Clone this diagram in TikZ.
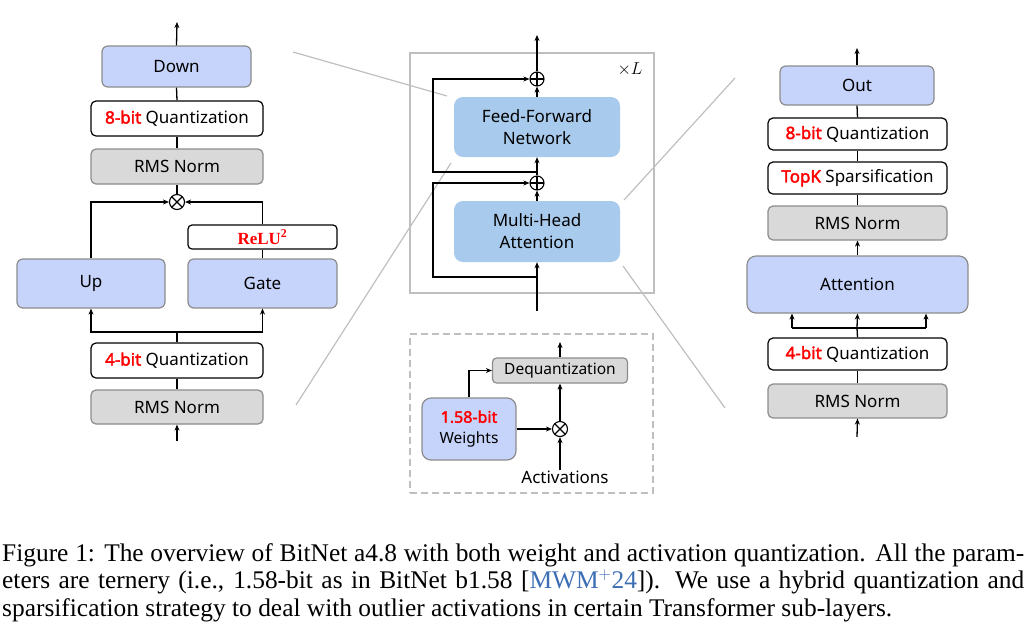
\documentclass[tikz,border=0pt]{standalone}
\usepackage{fontspec}
\setmainfont{Liberation Serif}
\newfontfamily\diafont{Noto Sans}
\newfontfamily\diabold{Noto Sans}[FakeBold=2.2]
\usetikzlibrary{arrows.meta}
\definecolor{bblue}{HTML}{C6D4FC}
\definecolor{fblue}{HTML}{A8CAEC}
\definecolor{ggray}{HTML}{D9D9D9}
\definecolor{bgray}{HTML}{8C8C8C}
\definecolor{lgray}{HTML}{BFBFBF}
\definecolor{bred}{HTML}{FF0000}
\definecolor{linkblue}{HTML}{3C6EB4}
\newcommand{\rb}[1]{\textcolor{bred}{\diabold #1}}
\begin{document}
\begin{tikzpicture}[x=1pt,y=-1pt,
  every node/.style={font=\diafont\fontsize{17}{20}\selectfont, inner sep=0pt},
  conn/.style={line width=1.3pt, draw=black},
  arr/.style={conn, -{Stealth[length=6pt,width=5pt]}},
  bluebox/.style={draw=bgray, line width=1.2pt, fill=bblue, rounded corners=6pt},
  graybox/.style={draw=bgray, line width=1.2pt, fill=ggray, rounded corners=5pt},
  whitebox/.style={draw=black, line width=1.2pt, fill=white, rounded corners=5pt},
  ffnbox/.style={fill=fblue, rounded corners=9pt},
  guide/.style={draw=lgray, line width=1.2pt},
  otimesnode/.style={circle, draw=black, line width=1.1pt, minimum size=15pt, fill=white,
    path picture={\draw[line width=1.1pt] (path picture bounding box.north west) -- (path picture bounding box.south east)
      (path picture bounding box.north east) -- (path picture bounding box.south west);}},
  oplusnode/.style={circle, draw=black, line width=1.1pt, minimum size=14pt, fill=white,
    path picture={\draw[line width=1.1pt] (path picture bounding box.north) -- (path picture bounding box.south)
      (path picture bounding box.west) -- (path picture bounding box.east);}}
]
\useasboundingbox (0,0) rectangle (1028,625);

% ---------------- guide lines ----------------
\coordinate (g1a) at (293,52);  \coordinate (g1b) at (447,96);
\coordinate (g2a) at (296,405); \coordinate (g2b) at (451,163);
\coordinate (g3a) at (624,200); \coordinate (g3b) at (735,78);
\coordinate (g4a) at (623,266); \coordinate (g4b) at (725,408);
\draw[guide] (g1a) -- (g1b);
\draw[guide] (g2a) -- (g2b);
\draw[guide] (g3a) -- (g3b);
\draw[guide] (g4a) -- (g4b);

% ---------------- left panel ----------------
\node[bluebox, minimum width=149pt, minimum height=41pt] (down) at (176.5,66.5) {Down};
\node[whitebox, minimum width=172pt, minimum height=35pt] (q8L) at (177,118.5) {\rb{8-bit} Quantization};
\node[graybox, minimum width=172pt, minimum height=35pt] (rmsL1) at (177,166.5) {RMS Norm};
\node[otimesnode] (mulL) at (177,202) {};
\node[whitebox, rounded corners=4pt, minimum width=149pt, minimum height=24pt] (relu) at (262.5,237)
  {\textcolor{bred}{\rmfamily\fontsize{17}{17}\selectfont\bfseries ReLU$^{\mathbf{2}}$}};
\node[bluebox, minimum width=148pt, minimum height=49pt] (up) at (91,283.5) {Up};
\node[bluebox, minimum width=149pt, minimum height=49pt] (gate) at (262.5,283.5) {Gate};
\node[whitebox, minimum width=172pt, minimum height=35pt] (q4L) at (177,360.5) {\rb{4-bit} Quantization};
\node[graybox, minimum width=172pt, minimum height=34pt] (rmsL2) at (177,407) {RMS Norm};
\coordinate (topL) at (177,22);
\coordinate (botL) at (177,441);
\coordinate (splitL) at (177,332);

\draw[arr] (down.north) -- (topL);
\draw[conn] (q8L.north) -- (down.south);
\draw[conn] (rmsL1.north) -- (q8L.south);
\draw[conn] (mulL.north) -- (rmsL1.south);
\draw[arr] (up.north) |- (mulL.west);
\draw[conn] (gate.north) -- (relu.south);
\draw[arr] (relu.north) |- (mulL.east);
\draw[conn] (q4L.north) -- (splitL);
\draw[arr] (splitL) -| (up.south);
\draw[arr] (splitL) -| (gate.south);
\draw[conn] (rmsL2.north) -- (q4L.south);
\draw[arr] (botL) -- (rmsL2.south);

% ---------------- middle panel ----------------
\node[draw=lgray, line width=1.2pt, minimum width=244pt, minimum height=240pt] (outer) at (532,173) {};
\node[font=\rmfamily\fontsize{18}{18}\selectfont] (xL) at (630,69) {$\times L$};
\node[oplusnode] (addT) at (537,79) {};
\node[ffnbox, minimum width=166pt, minimum height=60pt, align=center] (ffn) at (537,127) {Feed-Forward\\[2pt]Network};
\node[oplusnode] (addB) at (537,183) {};
\node[ffnbox, minimum width=166pt, minimum height=61pt, align=center] (mha) at (537,231.5) {Multi-Head\\[2pt]Attention};
\coordinate (topM) at (537,35);
\coordinate (botM) at (537,311);
\coordinate (resT) at (537,172);
\coordinate (resTc) at (433,172);
\coordinate (resB) at (537,277);
\coordinate (resBc) at (433,277);

\draw[arr] (addT.north) -- (topM);
\draw[arr] (ffn.north) -- (addT.south);
\draw[arr] (addB.north) -- (ffn.south);
\draw[arr] (mha.north) -- (addB.south);
\draw[arr] (botM) -- (mha.south);
\draw[arr] (resT) -- (resTc) |- (addT.west);
\draw[arr] (resB) -- (resBc) |- (addB.west);

% ---------------- dashed panel ----------------
\node[draw=lgray, line width=1.2pt, dash pattern=on 7pt off 4pt, minimum width=243pt, minimum height=159pt] (dbox) at (531.5,413.5) {};
\node[graybox, rounded corners=4pt, minimum width=135pt, minimum height=25pt] (deq) at (560,370.5) {\fontsize{15.5}{18}\selectfont Dequantization};
\node[bluebox, rounded corners=9pt, minimum width=94pt, minimum height=62pt, align=center] (wts) at (469,429)
  {\fontsize{16}{18}\selectfont\rb{1.58-bit}\\[1pt]\fontsize{15.5}{18}\selectfont Weights};
\node[otimesnode] (mulD) at (560,429) {};
\node[anchor=base] (act) at (565,483) {Activations};
\coordinate (topD) at (560,342);

\draw[arr] (deq.north) -- (topD);
\draw[arr] (wts.north) |- (deq.west);
\draw[arr] (wts.east) -- (mulD.west);
\draw[arr] (mulD.north) -- (deq.south);
\draw[arr] (act.north -| mulD.south) -- (mulD.south);

% ---------------- right panel ----------------
\node[bluebox, minimum width=154pt, minimum height=39pt] (out) at (857,85.5) {Out};
\node[whitebox, minimum width=179pt, minimum height=32pt] (q8R) at (857.5,134) {\rb{8-bit} Quantization};
\node[whitebox, minimum width=179pt, minimum height=32pt] (topk) at (857.5,178) {\rb{TopK} Sparsification};
\node[graybox, minimum width=179pt, minimum height=34pt] (rmsR1) at (857.5,223) {RMS Norm};
\node[bluebox, rounded corners=9pt, minimum width=221pt, minimum height=57pt] (attn) at (857.5,284.5) {Attention};
\node[whitebox, minimum width=179pt, minimum height=32pt] (q4R) at (857.5,354) {\rb{4-bit} Quantization};
\node[graybox, minimum width=179pt, minimum height=34pt] (rmsR2) at (857.5,401) {RMS Norm};
\coordinate (topR) at (857,48);
\coordinate (botR) at (857,437);
\coordinate (splitR) at (857,328);
\coordinate (sRL) at (792,328);
\coordinate (sRR) at (926,328);

\draw[arr] (out.north) -- (topR);
\draw[conn] (q8R.north) -- (out.south);
\draw[conn] (topk.north) -- (q8R.south);
\draw[conn] (rmsR1.north) -- (topk.south);
\draw[arr] (attn.north) -- (rmsR1.south);
\draw[conn] (q4R.north) -- (splitR);
\draw[conn] (sRL) -- (sRR);
\draw[arr] (splitR) -- (attn.south);
\draw[arr] (sRL) -- (sRL |- attn.south);
\draw[arr] (sRR) -- (sRR |- attn.south);
\draw[conn] (rmsR2.north) -- (q4R.south);
\draw[arr] (botR) -- (rmsR2.south);

% ---------------- caption ----------------
\node[anchor=north west, text width=1022pt, align=justify, font=\rmfamily\fontsize{25.4}{27.5}\selectfont] (cap) at (2,543)
{Figure 1: The overview of BitNet a4.8 with both weight and activation quantization. All the param-\linebreak eters are ternery (i.e., 1.58-bit as in BitNet b1.58 [\textcolor{linkblue}{MWM$^{+}$24}]). We use a hybrid quantization and\linebreak sparsification strategy to deal with outlier activations in certain Transformer sub-layers.};
\end{tikzpicture}
\end{document}
